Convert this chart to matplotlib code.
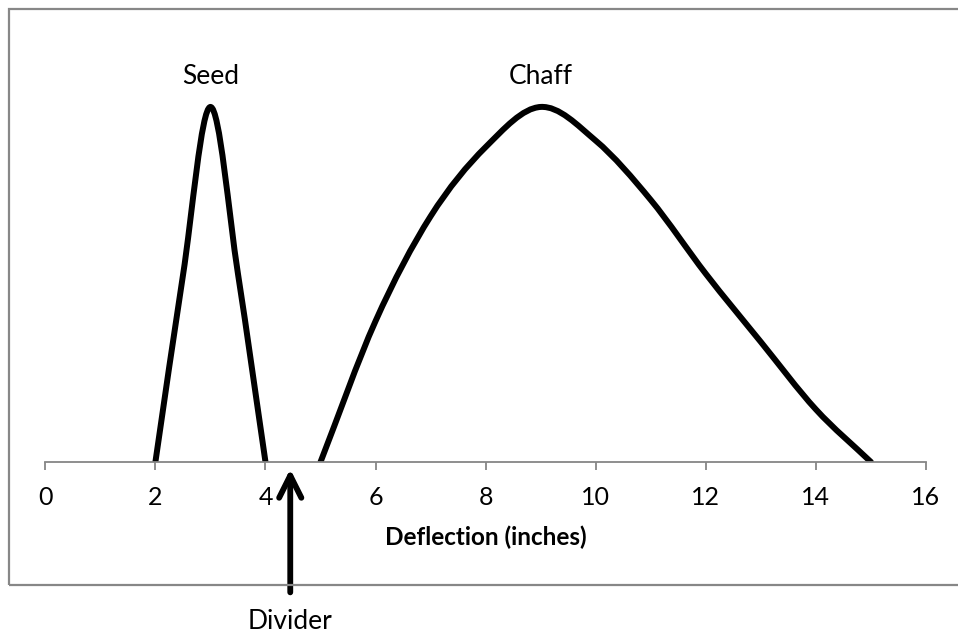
import matplotlib.pyplot as plt
from matplotlib.path import Path
from matplotlib.patches import PathPatch, Rectangle
import numpy as np

plt.rcParams['font.family'] = ['Lato', 'DejaVu Sans']

# data (relative height, peak = 1)
seed_x = [2, 2.5, 3, 3.5, 4]
seed_y = [0, 0.525, 1, 0.53, 0]
chaff_x = [5, 6, 7, 8, 9, 10, 11, 12, 13, 14, 15]
chaff_y = [0, 0.397, 0.692, 0.887, 1.0, 0.905, 0.738, 0.530, 0.338, 0.148, 0]
labels = ['Seed', 'Chaff']
label_x = [3, 9]
divider_x = 4.45
xticks = [0, 2, 4, 6, 8, 10, 12, 14, 16]

def smooth_path(xs, ys):
    # excel-ish smoothed line: cubic bezier, catmull-rom control points,
    # reflected phantom points at the two ends
    p = np.column_stack([xs, ys]).astype(float)
    p = np.vstack([2 * p[0] - p[1], p, 2 * p[-1] - p[-2]])
    n = len(p)
    verts = [p[1]]
    codes = [Path.MOVETO]
    for i in range(1, n - 2):
        c1 = p[i] + (p[i + 1] - p[i - 1]) / 6
        c2 = p[i + 1] - (p[i + 2] - p[i]) / 6
        verts += [c1, c2, p[i + 1]]
        codes += [Path.CURVE4] * 3
    return Path(verts, codes)

fig = plt.figure(figsize=(9.58, 6.39), dpi=100)
ax = fig.add_axes([0.0473, 0.277, 0.9193, 0.639])

for xs, ys in [(seed_x, seed_y), (chaff_x, chaff_y)]:
    ax.add_patch(PathPatch(smooth_path(xs, ys), fill=False, lw=4.3,
                           ec='black', capstyle='round', joinstyle='round'))

for t, lx in zip(labels, label_x):
    ax.text(lx, 1.087, t, ha='center', va='center', fontsize=19)

ax.annotate('', xy=(divider_x, -0.012), xytext=(divider_x, -0.375),
            annotation_clip=False,
            arrowprops=dict(arrowstyle='->,head_length=0.8,head_width=0.4',
                            mutation_scale=20, lw=4.2, color='black'))
ax.text(divider_x, -0.45, 'Divider', ha='center', va='center', fontsize=19)

ax.set_xlim(0, 16)
ax.set_ylim(0, 1.15)
ax.set_xticks(xticks)
ax.set_yticks([])
for s in ['left', 'top', 'right']:
    ax.spines[s].set_visible(False)
ax.spines['bottom'].set_color('#868686')
ax.spines['bottom'].set_linewidth(1.3)
ax.tick_params(axis='x', length=6, width=1.3, color='#868686',
               labelsize=18, pad=11)
ax.set_xlabel('Deflection (inches)', fontsize=17.5, fontweight='bold', labelpad=12)

fig.patches.append(Rectangle((0.0094, 0.0845), 1.2, 0.9015, transform=fig.transFigure,
                             fill=False, ec='#878787', lw=1.6))

fig.savefig('out.png', dpi=100)
